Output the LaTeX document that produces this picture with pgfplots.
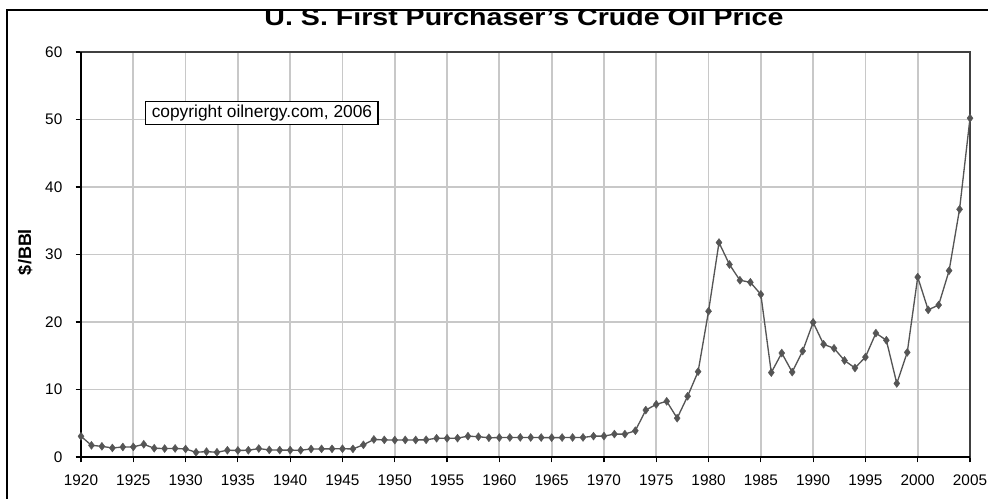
\documentclass[border=0pt]{standalone}
\usepackage{fontspec}
\setmainfont{Liberation Sans}
\usepackage{pgfplots}
\pgfplotsset{compat=1.18}
\usepackage{pgfplotstable}
\definecolor{series}{HTML}{555555}
\definecolor{gridc}{HTML}{C8C8C8}
\definecolor{framec}{HTML}{404040}
\pgfplotstableread{
year price
1920 3.07
1921 1.73
1922 1.58
1923 1.34
1924 1.48
1925 1.50
1926 1.88
1927 1.30
1928 1.25
1929 1.27
1930 1.19
1931 0.70
1932 0.80
1933 0.70
1934 1.00
1935 0.97
1936 1.00
1937 1.25
1938 1.05
1939 1.02
1940 1.02
1941 1.00
1942 1.19
1943 1.20
1944 1.21
1945 1.22
1946 1.20
1947 1.80
1948 2.60
1949 2.54
1950 2.51
1951 2.53
1952 2.53
1953 2.55
1954 2.78
1955 2.77
1956 2.79
1957 3.09
1958 3.01
1959 2.85
1960 2.88
1961 2.89
1962 2.90
1963 2.89
1964 2.88
1965 2.86
1966 2.88
1967 2.89
1968 2.90
1969 3.09
1970 3.10
1971 3.39
1972 3.39
1973 3.89
1974 6.95
1975 7.80
1976 8.25
1977 5.75
1978 9.00
1979 12.64
1980 21.59
1981 31.77
1982 28.52
1983 26.19
1984 25.88
1985 24.09
1986 12.51
1987 15.40
1988 12.58
1989 15.70
1990 19.95
1991 16.70
1992 16.10
1993 14.30
1994 13.19
1995 14.80
1996 18.35
1997 17.30
1998 10.90
1999 15.50
2000 26.65
2001 21.80
2002 22.51
2003 27.60
2004 36.70
2005 50.20
}\oildata
\begin{document}
\begin{tikzpicture}
\path[use as bounding box] (0,0) rectangle (741pt,-374.25pt);
% outer chart frame
\draw[black, line width=1.5pt] ({7*0.75pt},{-10*0.75pt}) rectangle ({1010*0.75pt},{-520*0.75pt});
% title (top cut off by the frame)
\begin{scope}
\clip ({8*0.75pt},{-11*0.75pt}) rectangle ({987*0.75pt},{-60*0.75pt});
\node[anchor=base, font=\fontsize{18}{20}\selectfont\bfseries, xscale=1.19, inner sep=0pt]
  at ({524*0.75pt},{-26*0.75pt}) {U. S. First Purchaser's Crude Oil Price};
\end{scope}
% y label
\node[rotate=90, font=\fontsize{13.5}{15}\selectfont\bfseries, inner sep=0pt]
  at ({25*0.75pt},{-252*0.75pt}) {\$/BBl};
\begin{axis}[
  at={({81*0.75pt},{-457*0.75pt})}, anchor=south west,
  scale only axis, width=666.75pt, height=303.75pt,
  xmin=1920, xmax=2005, ymin=0, ymax=60,
  xtick={1920,1925,...,2005}, ytick={0,10,...,60},
  grid=major,
  major grid style={gridc, line width=1.3pt},
  axis line style={framec, line width=1.1pt},
  tick align=outside, tick pos=left,
  major tick length=4pt,
  tick style={black, line width=0.9pt},
  /pgf/number format/assume math mode=true,
  /pgf/number format/1000 sep={},
  ticklabel style={font=\fontsize{11.5}{13}\selectfont},
  xticklabel style={yshift=-6pt},
  yticklabel style={xshift=-6.5pt},
  clip=false,
]
\draw[black, line width=1.3pt] (rel axis cs:0,1) -- (rel axis cs:0,0) -- (rel axis cs:1,0);
\addplot[series, line width=1pt, mark=diamond*, mark size=3pt,
  mark options={fill=series, draw=series, line width=0.3pt}]
  table[x=year, y=price] {\oildata};
\node[draw=black, line width=0.9pt, fill=white, inner xsep=4.5pt, inner ysep=2.5pt,
  font=\fontsize{13}{15}\selectfont]
  at (axis cs:1937.3,51.0) {copyright oilnergy.com, 2006};
\end{axis}
\end{tikzpicture}
\end{document}
